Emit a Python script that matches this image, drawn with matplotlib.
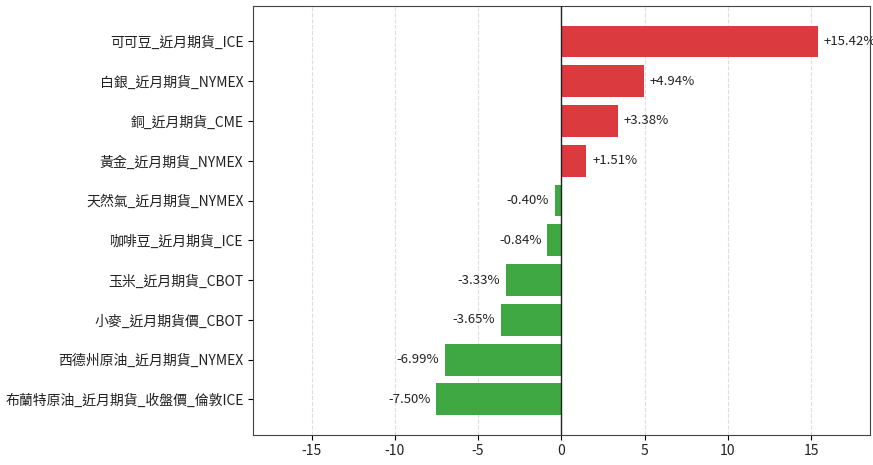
import matplotlib
matplotlib.use('Agg')
import matplotlib.pyplot as plt

plt.rcParams['font.family'] = ['Noto Sans CJK TC', 'DejaVu Sans']
plt.rcParams['axes.unicode_minus'] = False

names = [
    '可可豆_近月期貨_ICE',
    '白銀_近月期貨_NYMEX',
    '銅_近月期貨_CME',
    '黃金_近月期貨_NYMEX',
    '天然氣_近月期貨_NYMEX',
    '咖啡豆_近月期貨_ICE',
    '玉米_近月期貨_CBOT',
    '小麥_近月期貨價_CBOT',
    '西德州原油_近月期貨_NYMEX',
    '布蘭特原油_近月期貨_收盤價_倫敦ICE',
]
changes = [15.42, 4.94, 3.38, 1.51, -0.40, -0.84, -3.33, -3.65, -6.99, -7.50]

red = '#db3b3e'
green = '#3fa843'

fig = plt.figure(figsize=(8.73, 4.65), dpi=100)
ax = fig.add_axes([0.29, 0.065, 0.706, 0.922])

ypos = list(range(len(names)))[::-1]
colors = [red if v >= 0 else green for v in changes]
ax.barh(ypos, changes, height=0.8, color=colors, zorder=2)

lim = max(abs(v) for v in changes) * 1.2
ax.set_xlim(-lim, lim)
ax.set_yticks(ypos)
ax.set_yticklabels(names, fontsize=10, color='#222222')
ax.set_xticks([-15, -10, -5, 0, 5, 10, 15])
ax.tick_params(axis='x', labelsize=10, labelcolor='#222222')

ax.axvline(0, color='#222222', lw=1, zorder=3)
ax.grid(axis='x', linestyle='--', color='#dddddd', lw=0.8, zorder=0)

for y, v in zip(ypos, changes):
    if v >= 0:
        ax.text(v + 0.35, y, f'+{v:.2f}%', va='center', ha='left', fontsize=9.5, color='#222222')
    else:
        ax.text(v - 0.35, y, f'{v:.2f}%', va='center', ha='right', fontsize=9.5, color='#222222')

for s in ax.spines.values():
    s.set_color('#444444')

fig.savefig('out.png', dpi=100)
